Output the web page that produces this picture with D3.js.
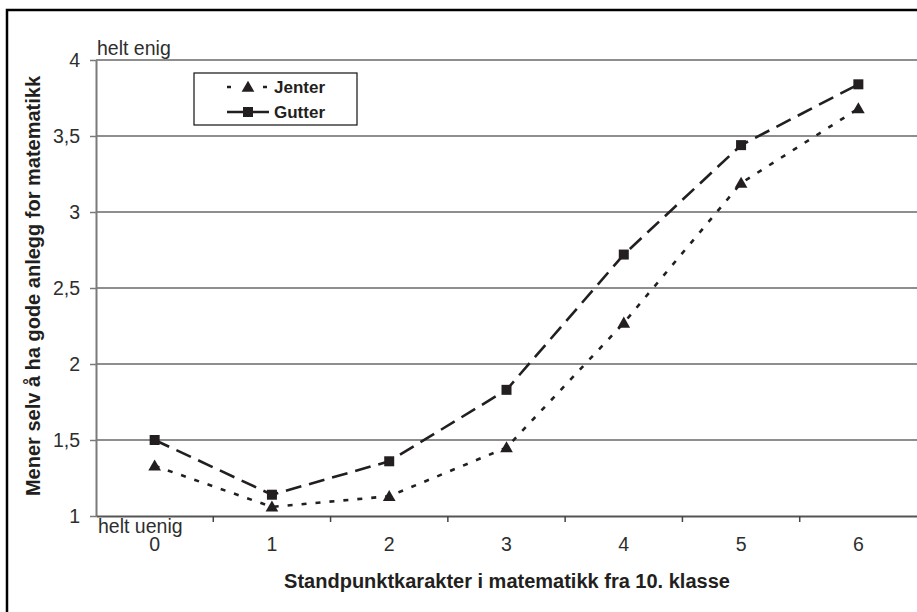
<!DOCTYPE html>
<html>
<head>
<meta charset="utf-8">
<script src="https://cdn.jsdelivr.net/npm/d3@7"></script>
<style>
  html, body { margin: 0; padding: 0; background: #fff; }
  svg { display: block; }
  text { font-family: "Liberation Sans", Arial, Helvetica, sans-serif; }
</style>
</head>
<body>
<svg id="chart" width="917" height="612"></svg>
<script>
// Standpunktkarakter (grade categories)
const categories = [0, 1, 2, 3, 4, 5, 6];
// Mean self-assessed aptitude, girls and boys
const jenter = [1.33, 1.06, 1.13, 1.45, 2.27, 3.19, 3.68];
const gutter = [1.50, 1.14, 1.36, 1.83, 2.72, 3.44, 3.84];
// Y axis ticks
const yTicks = [1, 1.5, 2, 2.5, 3, 3.5, 4];
const yTickLabels = ["1", "1,5", "2", "2,5", "3", "3,5", "4"];
const seriesNames = ["Jenter", "Gutter"];

const svg = d3.select("#chart");
const ink = "#231f20";

// outer frame (runs off the right and bottom edges)
svg.append("rect")
  .attr("x", 7).attr("y", 10)
  .attr("width", 1000).attr("height", 1000)
  .attr("fill", "none").attr("stroke", "#000").attr("stroke-width", 2.5);

const x = d3.scaleBand().domain(categories).range([96, 917]).paddingInner(0).paddingOuter(0);
const cx = d => x(d) + x.bandwidth() / 2;
const y = d3.scaleLinear().domain([1, 4]).range([516, 60]);

// horizontal gridlines
svg.append("g").selectAll("line")
  .data(yTicks.filter(t => t > 1))
  .join("line")
  .attr("x1", 96).attr("x2", 917)
  .attr("y1", d => y(d)).attr("y2", d => y(d))
  .attr("stroke", "#8e8e8e").attr("stroke-width", 2);

// y axis
const yAxis = svg.append("g")
  .attr("transform", "translate(96,0)")
  .call(d3.axisLeft(y).tickValues(yTicks).tickSize(6).tickSizeOuter(0)
    .tickFormat((d, i) => yTickLabels[i]));
yAxis.select(".domain").attr("stroke", "#7a7a7a").attr("stroke-width", 2);
yAxis.selectAll(".tick line").attr("stroke", "#7a7a7a").attr("stroke-width", 1.5);
yAxis.selectAll(".tick text")
  .attr("x", -16).attr("dy", "0.35em")
  .attr("font-size", 19.5).attr("fill", "#2e2e2e")
  .style("font-family", "'Liberation Sans', Arial, sans-serif");

// x axis
const xAxis = svg.append("g")
  .attr("transform", "translate(0,516)")
  .call(d3.axisBottom(x).tickSize(0).tickSizeOuter(0));
xAxis.select(".domain").attr("stroke", "#555").attr("stroke-width", 2);
xAxis.selectAll(".tick text")
  .attr("y", 35).attr("dy", 0)
  .attr("font-size", 19.5).attr("fill", "#2e2e2e")
  .style("font-family", "'Liberation Sans', Arial, sans-serif");
// category boundary ticks
svg.append("g").selectAll("line")
  .data(categories.slice(1))
  .join("line")
  .attr("x1", d => x(d)).attr("x2", d => x(d))
  .attr("y1", 516).attr("y2", 522)
  .attr("stroke", "#444").attr("stroke-width", 1.5);

// scale end annotations
svg.append("text").attr("x", 97).attr("y", 55)
  .attr("font-size", 19.5).attr("fill", "#2e2e2e").text("helt enig");
svg.append("text").attr("x", 98).attr("y", 533)
  .attr("font-size", 19.5).attr("fill", "#2e2e2e").text("helt uenig");

// axis titles
svg.append("text")
  .attr("x", 507).attr("y", 588)
  .attr("text-anchor", "middle")
  .attr("font-size", 20).attr("font-weight", "bold").attr("fill", ink)
  .text("Standpunktkarakter i matematikk fra 10. klasse");
svg.append("text")
  .attr("transform", "translate(40,286) rotate(-90)")
  .attr("text-anchor", "middle")
  .attr("font-size", 20).attr("font-weight", "bold").attr("fill", ink)
  .text("Mener selv å ha gode anlegg for matematikk");

// series
const dashes = { Jenter: "5,9", Gutter: "16,8" };
const line = d3.line().x((d, i) => cx(categories[i])).y(d => y(d));
const tri = d3.symbol().type(d3.symbolTriangle).size(70);

svg.append("path").datum(jenter)
  .attr("d", line).attr("fill", "none")
  .attr("stroke", ink).attr("stroke-width", 2.6)
  .attr("stroke-dasharray", dashes.Jenter);
svg.append("path").datum(gutter)
  .attr("d", line).attr("fill", "none")
  .attr("stroke", ink).attr("stroke-width", 2.6)
  .attr("stroke-dasharray", dashes.Gutter);

svg.append("g").selectAll("path")
  .data(jenter)
  .join("path")
  .attr("d", tri)
  .attr("transform", (d, i) => `translate(${cx(categories[i])},${y(d) + 1})`)
  .attr("fill", ink);
svg.append("g").selectAll("rect")
  .data(gutter)
  .join("rect")
  .attr("x", (d, i) => cx(categories[i]) - 5)
  .attr("y", d => y(d) - 5)
  .attr("width", 10).attr("height", 10)
  .attr("fill", ink);

// legend
const lg = svg.append("g");
lg.append("rect")
  .attr("x", 194).attr("y", 73).attr("width", 163).attr("height", 52)
  .attr("fill", "#fff").attr("stroke", "#111").attr("stroke-width", 1.2);
const rows = [
  { name: seriesNames[0], y: 87, dash: "4,32,4", marker: "tri" },
  { name: seriesNames[1], y: 112, dash: null, marker: "sq" }
];
rows.forEach(r => {
  lg.append("line")
    .attr("x1", 227).attr("x2", 269).attr("y1", r.y).attr("y2", r.y)
    .attr("stroke", ink).attr("stroke-width", 2.6)
    .attr("stroke-dasharray", r.dash);
  if (r.marker === "tri") {
    lg.append("path").attr("d", tri).attr("transform", `translate(248,${r.y + 1})`).attr("fill", ink);
  } else {
    lg.append("rect").attr("x", 243).attr("y", r.y - 5).attr("width", 10).attr("height", 10).attr("fill", ink);
  }
  lg.append("text").attr("x", 274).attr("y", r.y + 6)
    .attr("font-size", 17).attr("font-weight", "bold").attr("fill", ink)
    .text(r.name);
});
</script>
</body>
</html>
